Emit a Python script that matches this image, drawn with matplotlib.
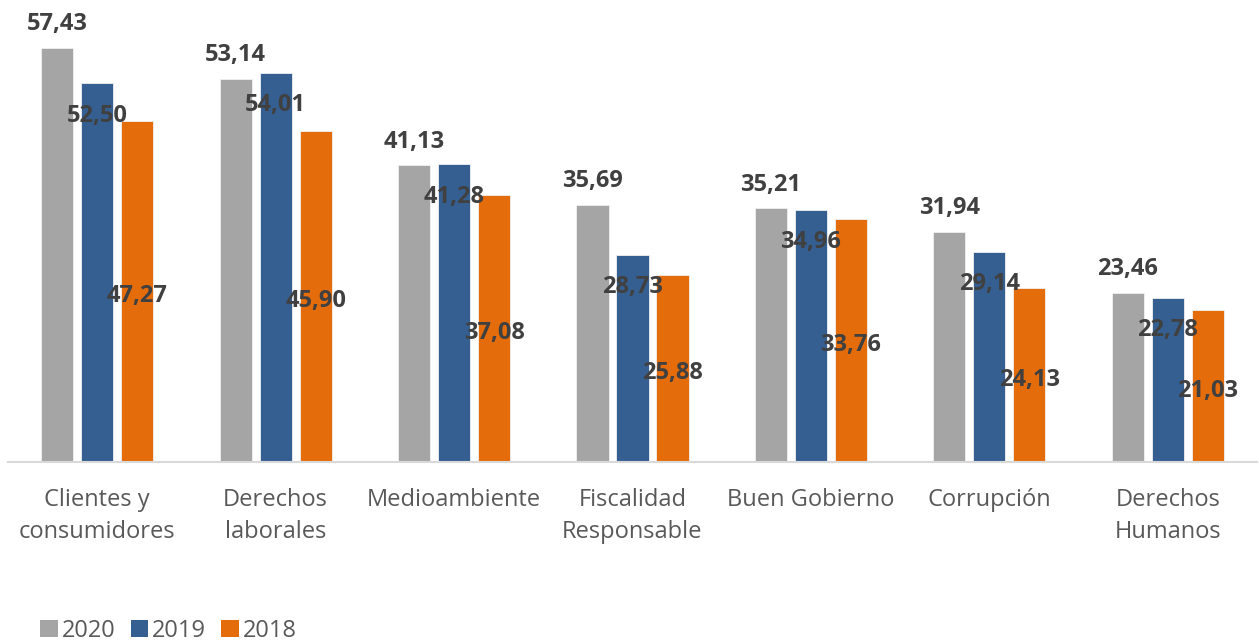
import matplotlib
matplotlib.use("Agg")
import matplotlib.pyplot as plt
import numpy as np
from matplotlib.patches import Patch

categories = ["Clientes y\nconsumidores", "Derechos\nlaborales", "Medioambiente",
              "Fiscalidad\nResponsable", "Buen Gobierno", "Corrupción", "Derechos\nHumanos"]
years = ["2020", "2019", "2018"]
v2020 = [57.43, 53.14, 41.13, 35.69, 35.21, 31.94, 23.46]
v2019 = [52.50, 54.01, 41.28, 28.73, 34.96, 29.14, 22.78]
v2018 = [47.27, 45.90, 37.08, 25.88, 33.76, 24.13, 21.03]

colors = ["#A5A5A5", "#355F91", "#E46C0A"]
txt = "#404040"
plt.rcParams['font.family'] = ['Open Sans', 'DejaVu Sans']

W, H = 1259, 643
fig = plt.figure(figsize=(W/100, H/100), dpi=100)
ax_left, ax_right = 8, 1257
ax_top, ax_base = 10, 462
ax = fig.add_axes([ax_left/W, (H-ax_base)/H, (ax_right-ax_left)/W, (ax_base-ax_top)/H])

x = np.arange(len(categories))
bw = 0.18
step = 0.224
series = [v2020, v2019, v2018]
px_per_pt = 100/72.0

def fmt(v):
    return f"{v:.2f}".replace(".", ",")

cap = 17  # approx digit cap height in px
for i, (vals, c) in enumerate(zip(series, colors)):
    xs = x + (i-1)*step
    ax.bar(xs, vals, width=bw, color=c, edgecolor="#f0f0f0", linewidth=0.6, zorder=2)
    for xi, v in zip(xs, vals):
        if i == 0:
            y, off_px = v, 26
        elif i == 1:
            y, off_px = v, -30
        else:
            y, off_px = v/2, -2
        base_off = off_px - cap/2
        ax.annotate(fmt(v), (xi, y), xytext=(0, base_off/px_per_pt), textcoords="offset points",
                    ha="center", va="baseline", fontsize=17, fontweight="bold", color=txt, zorder=3)

ax.set_xlim(-0.5, len(categories)-0.5)
ax.set_ylim(0, (ax_base-ax_top)/7.21)
for s in ["top", "right", "left"]:
    ax.spines[s].set_visible(False)
ax.spines["bottom"].set_color("#D9D9D9")
ax.spines["bottom"].set_linewidth(1.5)
ax.set_yticks([])
ax.set_xticks(x)
ax.set_xticklabels(categories, fontsize=17, color="#595959", linespacing=1.42, va="top")
ax.tick_params(axis="x", length=0, pad=19)

handles = [Patch(facecolor=c, edgecolor="none") for c in colors]
fig.legend(handles, years, loc="lower left", bbox_to_anchor=(19/W, -21/H), ncol=3, frameon=False,
           fontsize=17, labelcolor="#595959", handlelength=0.75, handleheight=0.75,
           handletextpad=0.15, columnspacing=0.65)

fig.savefig("out.png", dpi=100)
